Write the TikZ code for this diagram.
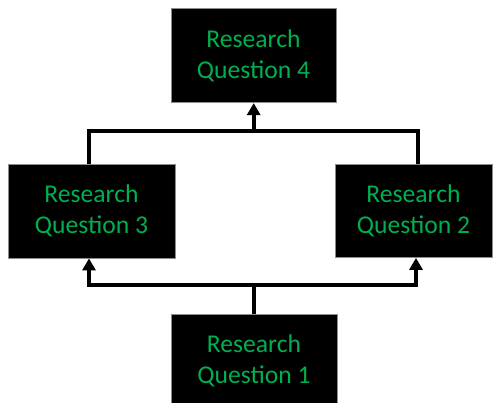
\documentclass[tikz,border=0pt]{standalone}
\usepackage{fontspec}
\setmainfont{Carlito}
\usepackage{xcolor}
\usetikzlibrary{arrows.meta}
\usetikzlibrary{positioning}
\definecolor{rqgreen}{RGB}{0,176,80}
\pgfdeclarelayer{nodelayer}
\pgfdeclarelayer{edgelayer}
\pgfsetlayers{edgelayer,nodelayer,main}
\tikzset{rq/.style={draw=black!45, line width=.8pt, fill=black, text=rqgreen, align=center, inner sep=0pt,
minimum height=94pt, font=\fontsize{25.6}{31.5}\selectfont}}
\tikzset{link/.style={line width=4pt, line cap=rect}}
\tikzset{up/.style={link, line cap=butt, -{Triangle[width=13pt,length=12pt]}}}

\begin{document}
\begin{tikzpicture}[x=1pt, y=1pt]
        \useasboundingbox (0,0) rectangle (494,403);
        \begin{pgfonlayer}{nodelayer}
            \node [rq, minimum width=165pt] (4) at (253.5, 347.3) {Research\\Question 4};
            \node [rq, minimum width=167pt] (3) at (91.5, 192) {Research\\Question 3};
            \node [rq, minimum width=157pt, minimum height=93pt] (2) at (413.5, 192) {Research\\Question 2};
            \node [rq, minimum width=166pt] (1) at (254, 42) {Research\\Question 1};
            \coordinate (5) at (253.7, 272);
            \coordinate (6) at (253.7, 118);
        \end{pgfonlayer}
        \begin{pgfonlayer}{edgelayer}
            \draw [link] ([xshift=-2.5pt]3.north) |- (5) -| ([xshift=4.5pt]2.north);
            \draw [up] (5) to (4.south -| 5);
            \draw [link] (1.north -| 6) to (6);
            \draw [up] (6) -| ([xshift=-2.5pt]3.south);
            \draw [up] (6) -| ([xshift=2.5pt]2.south);
        \end{pgfonlayer}
\end{tikzpicture}
\end{document}
